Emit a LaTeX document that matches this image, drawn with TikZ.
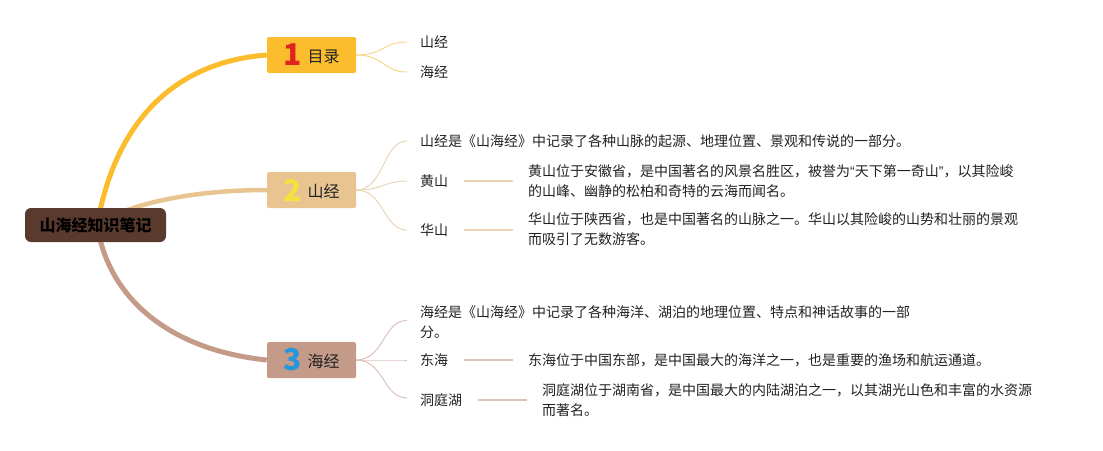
\documentclass[tikz,border=0pt]{standalone}
\usepackage{fontspec}
\setmainfont{Noto Sans CJK SC}
\newfontfamily\latq{Liberation Sans}
\usetikzlibrary{backgrounds,calc}
\definecolor{rootc}{HTML}{5B3A2E}
\definecolor{c1}{HTML}{FBBD2E}
\definecolor{c2}{HTML}{E8C491}
\definecolor{c3}{HTML}{C49A88}
\definecolor{l1}{HTML}{F6D88E}
\definecolor{l2}{HTML}{EBD5B4}
\definecolor{l3}{HTML}{DCC2BA}
\definecolor{n1}{HTML}{E0231E}
\definecolor{n2}{HTML}{F5E23C}
\definecolor{n3}{HTML}{2797DD}
\definecolor{txt}{HTML}{222222}
\newcommand{\bignum}[2]{{\color{#1}\fontsize{30}{30}\selectfont\bfseries #2}}
\newcommand{\toplabel}[1]{\raisebox{3.5pt}{#1}}
\begin{document}
\begin{tikzpicture}[x=1pt,y=-1pt,
  rootbox/.style={fill=rootc, rounded corners=6pt, minimum width=141pt, minimum height=34pt, inner sep=0pt, font=\fontsize{16}{16}\selectfont\bfseries, text=black},
  topic/.style={minimum width=89pt, minimum height=36pt, inner sep=0pt, rounded corners=1.5pt, font=\fontsize{16}{16}\selectfont, text=txt},
  leaf/.style={anchor=west, inner sep=0pt, font=\fontsize{14}{20}\selectfont, text=txt, align=left},
  mainbr/.style={line width=5pt},
  leafbr/.style={line width=1pt},
]
\useasboundingbox (0,0) rectangle (1103,450);

% root and topics
\node[rootbox] (root) at (95.5,225) {山海经知识笔记};
\node[topic, fill=c1] (t1) at (311.5,55) {\bignum{n1}{1}\hspace{6pt}\toplabel{目录}};
\node[topic, fill=c2] (t2) at (311.5,190) {\bignum{n2}{2}\hspace{6pt}\toplabel{山经}};
\node[topic, fill=c3] (t3) at (311.5,360) {\bignum{n3}{3}\hspace{6pt}\toplabel{海经}};

% topic 1 leaves
\node[leaf] (a1) at (420,42) {山经};
\node[leaf] (a2) at (420,72) {海经};

% topic 2 leaves
\node[leaf] (b0) at (420,141) {山经是《山海经》中记录了各种山脉的起源、地理位置、景观和传说的一部分。};
\node[leaf] (b1) at (420,181) {黄山};
\node[leaf] (b1d) at (528,181.6) {黄山位于安徽省，是中国著名的风景名胜区，被誉为{\latq “}天下第一奇山{\latq ”}，以其险峻\\的山峰、幽静的松柏和奇特的云海而闻名。};
\node[leaf] (b2) at (420,230) {华山};
\node[leaf] (b2d) at (528,229.3) {华山位于陕西省，也是中国著名的山脉之一。华山以其险峻的山势和壮丽的景观\\而吸引了无数游客。};

% topic 3 leaves
\node[leaf] (c0) at (420,322.5) {海经是《山海经》中记录了各种海洋、湖泊的地理位置、特点和神话故事的一部\\分。};
\node[leaf] (c1n) at (420,360) {东海};
\node[leaf] (c1d) at (528,360) {东海位于中国东部，是中国最大的海洋之一，也是重要的渔场和航运通道。};
\node[leaf] (c2n) at (420,400) {洞庭湖};
\node[leaf] (c2d) at (542,400) {洞庭湖位于湖南省，是中国最大的内陆湖泊之一，以其湖光山色和丰富的水资源\\而著名。};

\begin{scope}[on background layer]
% main branches
\draw[mainbr, c1] ($(root.north)+(4.5,3)$) .. controls (120,120) and (175,62) .. (t1.west);
\draw[mainbr, c2, line width=4.5pt] ($(root.north)+(29.5,3)$) .. controls (160,198) and (210,190) .. (t2.west);
\draw[mainbr, c3] ($(root.south)+(4.5,-3)$) .. controls (115,300) and (170,350) .. (t3.west);

% topic 1 leaf connectors
\draw[leafbr, l1] (t1.east) .. controls +(28,0) and +(-24,0) .. ($(a1.west)+(-13,0)$);
\draw[leafbr, l1] (t1.east) .. controls +(28,0) and +(-24,0) .. ($(a2.west)+(-13,0)$);

% topic 2 leaf connectors
\draw[leafbr, l2] (t2.east) .. controls +(28,0) and +(-24,0) .. ($(b0.west)+(-13,0)$);
\draw[leafbr, l2] (t2.east) .. controls +(28,0) and +(-24,0) .. ($(b1.west)+(-13,0)$);
\draw[leafbr, l2] (t2.east) .. controls +(28,0) and +(-24,0) .. ($(b2.west)+(-13,0)$);
\draw[leafbr, l2, line width=1.5pt] ($(b1.east)+(16,0)$) -- ($(b1d.west |- b1.east)+(-15,0)$);
\draw[leafbr, l2, line width=1.5pt] ($(b2.east)+(16,0)$) -- ($(b2d.west |- b2.east)+(-15,0)$);

% topic 3 leaf connectors
\draw[leafbr, l3] (t3.east) .. controls +(28,0) and +(-24,0) .. ($(c0.west)+(-13,-2)$);
\draw[leafbr, l3] (t3.east) .. controls +(28,0) and +(-24,0) .. ($(c1n.west)+(-13,0)$);
\draw[leafbr, l3] (t3.east) .. controls +(28,0) and +(-24,0) .. ($(c2n.west)+(-13,-2)$);
\draw[leafbr, l3, line width=1.5pt] ($(c1n.east)+(16,0)$) -- ($(c1d.west |- c1n.east)+(-15,0)$);
\draw[leafbr, l3, line width=1.5pt] ($(c2n.east)+(16,0)$) -- ($(c2d.west |- c2n.east)+(-15,0)$);
\end{scope}
\end{tikzpicture}
\end{document}
